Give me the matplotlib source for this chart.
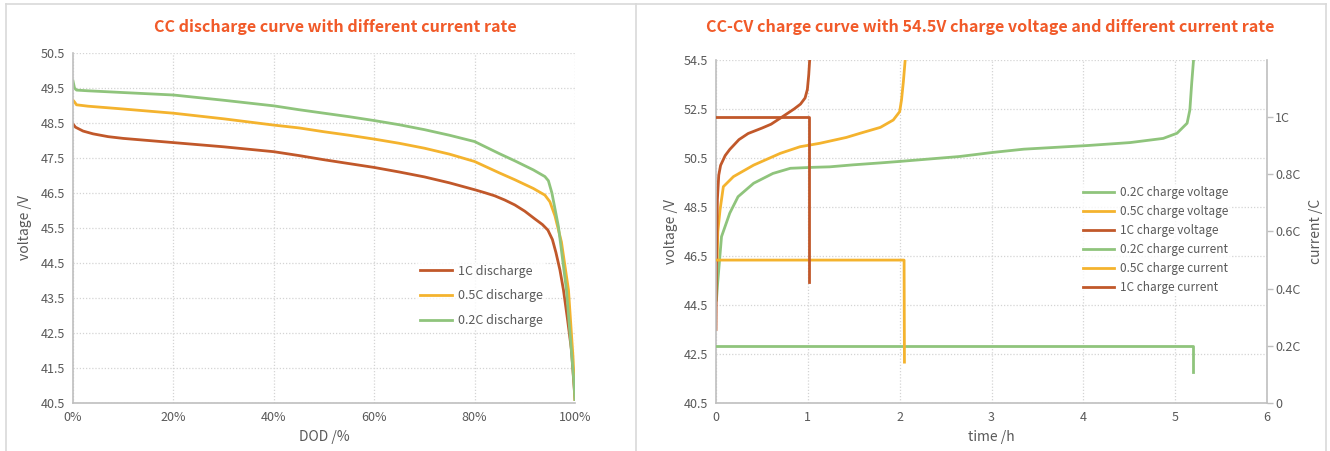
import matplotlib
matplotlib.use("Agg")
import matplotlib.pyplot as plt
from matplotlib.lines import Line2D

# ---------------- data: left panel (CC discharge) ----------------
dod_1c = [0, 0.5, 2, 4, 7, 10, 20, 30, 40, 45, 50, 55, 60, 65, 70, 75, 80.1, 82, 84, 86, 88, 90, 92, 93.5, 94.6, 95.5, 96.2, 97, 97.7, 98.5, 99.3, 99.8, 100]
v_1c = [48.47, 48.38, 48.27, 48.19, 48.11, 48.06, 47.94, 47.82, 47.68, 47.57, 47.45, 47.34, 47.23, 47.1, 46.96, 46.79, 46.59, 46.51, 46.42, 46.3, 46.16, 45.98, 45.76, 45.6, 45.44, 45.17, 44.8, 44.3, 43.73, 42.9, 42.01, 41.0, 40.6]

dod_05c = [0, 0.3, 0.7, 3, 10, 20, 30, 40, 45, 50, 55, 60, 65, 70, 75, 80, 85, 88, 91.7, 94, 95, 96, 97.3, 98.7, 99.6, 100]
v_05c = [49.15, 49.1, 49.02, 48.98, 48.9, 48.78, 48.62, 48.44, 48.36, 48.25, 48.15, 48.04, 47.92, 47.78, 47.61, 47.4, 47.07, 46.88, 46.63, 46.44, 46.25, 45.85, 45.1, 43.73, 41.82, 40.6]

dod_02c = [0, 0.3, 0.7, 3, 10, 20, 30, 40, 45, 50, 55, 60, 65, 70, 75, 80, 85, 88, 91.7, 94, 94.7, 95.4, 96.7, 98.3, 99.8, 100]
v_02c = [49.7, 49.5, 49.44, 49.42, 49.37, 49.3, 49.15, 48.99, 48.88, 48.78, 48.68, 48.57, 48.45, 48.31, 48.15, 47.97, 47.62, 47.42, 47.16, 46.97, 46.85, 46.5, 45.54, 43.73, 41.07, 40.6]

# ---------------- data: right panel (CC-CV charge) ----------------
t_v1c = [0, 0.005, 0.015, 0.03, 0.05, 0.1, 0.15, 0.25, 0.35, 0.5, 0.6, 0.73, 0.85, 0.92, 0.97, 0.995, 1.01, 1.02]
volt_1c = [43.5, 46.0, 48.8, 49.8, 50.2, 50.6, 50.85, 51.25, 51.5, 51.72, 51.88, 52.2, 52.5, 52.7, 52.95, 53.3, 53.9, 54.5]

t_v05c = [0.012, 0.02, 0.044, 0.08, 0.19, 0.41, 0.7, 0.915, 1.13, 1.42, 1.57, 1.79, 1.93, 2.0, 2.02, 2.04, 2.06]
volt_05c = [46.3, 47.5, 48.38, 49.33, 49.74, 50.21, 50.69, 50.96, 51.1, 51.34, 51.51, 51.75, 52.05, 52.39, 52.87, 53.6, 54.5]

t_v02c = [0.005, 0.018, 0.06, 0.15, 0.24, 0.41, 0.62, 0.81, 1.06, 1.24, 1.49, 1.79, 2.0, 2.65, 3.02, 3.35, 4.05, 4.51, 4.87, 5.02, 5.13, 5.16, 5.18, 5.2]
volt_02c = [44.7, 45.4, 47.29, 48.25, 48.92, 49.47, 49.87, 50.08, 50.12, 50.14, 50.22, 50.3, 50.36, 50.56, 50.73, 50.86, 51.01, 51.13, 51.3, 51.51, 51.92, 52.46, 53.55, 54.5]

t_i1c = [0, 1.017, 1.017]
cur_1c = [1.0, 1.0, 0.425]
t_i05c = [0, 2.048, 2.052]
cur_05c = [0.5, 0.5, 0.143]
t_i02c = [0, 5.19, 5.19]
cur_02c = [0.2, 0.2, 0.11]

left_yticks = [40.5, 41.5, 42.5, 43.5, 44.5, 45.5, 46.5, 47.5, 48.5, 49.5, 50.5]
left_xticks = [0, 20, 40, 60, 80, 100]
right_yticks = [40.5, 42.5, 44.5, 46.5, 48.5, 50.5, 52.5, 54.5]
right_xticks = [0, 1, 2, 3, 4, 5, 6]
cur_ticks = [0, 0.2, 0.4, 0.6, 0.8, 1.0]
cur_labels = ["0", "0.2C", "0.4C", "0.6C", "0.8C", "1C"]

# ---------------- style ----------------
GREEN = "#8FC47C"
YELLOW = "#F4B32E"
RED = "#C1582A"
TITLE = "#F15A29"
TXT = "#595959"
GRID = "#D4D4D4"
SPINE = "#BFBFBF"
FONT = ["Noto Sans CJK SC", "DejaVu Sans"]
plt.rcParams["font.family"] = FONT

W, H = 1330, 451
fig = plt.figure(figsize=(W / 100, H / 100), dpi=100)

def fx(px):
    return px / W

def fy(py):
    return 1 - py / H

# panel borders
for x0 in (6, 636, 1326):
    fig.add_artist(Line2D([fx(x0), fx(x0)], [fy(4), 0], color="#D9D9D9", lw=1.2))
fig.add_artist(Line2D([fx(6), fx(1326)], [fy(4), fy(4)], color="#D9D9D9", lw=1.2))

def style_axes(ax):
    ax.grid(True, linestyle=(0, (1, 1.5)), color=GRID, linewidth=0.9)
    ax.set_axisbelow(True)
    for s in ("top", "right"):
        ax.spines[s].set_visible(False)
    for s in ("left", "bottom"):
        ax.spines[s].set_color(SPINE)
        ax.spines[s].set_linewidth(1.2)
    ax.tick_params(length=0, labelsize=9, labelcolor=TXT, pad=6)

# ---------------- left panel ----------------
ax1 = fig.add_axes([fx(73), fy(403), fx(575) - fx(73), fy(53) - fy(403)])
style_axes(ax1)
lw = 2.0
ax1.plot(dod_1c, v_1c, color=RED, lw=lw, label="1C discharge")
ax1.plot(dod_05c, v_05c, color=YELLOW, lw=lw, label="0.5C discharge")
ax1.plot(dod_02c, v_02c, color=GREEN, lw=lw, label="0.2C discharge")
ax1.set_xlim(0, 100)
ax1.set_ylim(40.5, 50.5)
ax1.set_xticks(left_xticks)
ax1.set_xticklabels([f"{v}%" for v in left_xticks])
ax1.set_yticks(left_yticks)
ax1.set_yticklabels([f"{v:.1f}" for v in left_yticks])
ax1.set_xlabel("DOD /%", fontsize=10, color=TXT, labelpad=4)
ax1.set_ylabel("voltage /V", fontsize=10, color=TXT, labelpad=6)
leg1 = ax1.legend(loc="center left", bbox_to_anchor=(fx(411), fy(296)), bbox_transform=fig.transFigure,
                  frameon=True, fontsize=9, handlelength=2.6, handletextpad=0.5, labelspacing=0.95,
                  borderpad=0.2)
leg1.get_frame().set_edgecolor("none")
leg1.get_frame().set_facecolor("white")
for t in leg1.get_texts():
    t.set_color(TXT)

fig.text(fx(335), fy(27), "CC discharge curve with different current rate", ha="center", va="center",
         fontsize=11.6, fontweight="bold", color=TITLE)

# ---------------- right panel ----------------
ax2 = fig.add_axes([fx(716), fy(403), fx(1267) - fx(716), fy(60) - fy(403)])
style_axes(ax2)
ax3 = ax2.twinx()
for s in ("top", "left", "bottom"):
    ax3.spines[s].set_visible(False)
ax3.spines["right"].set_color(SPINE)
ax3.spines["right"].set_linewidth(1.2)

l1, = ax2.plot(t_v02c, volt_02c, color=GREEN, lw=lw, label="0.2C charge voltage")
l2, = ax2.plot(t_v05c, volt_05c, color=YELLOW, lw=lw, label="0.5C charge voltage")
l3, = ax2.plot(t_v1c, volt_1c, color=RED, lw=lw, label="1C charge voltage")
l4, = ax3.plot(t_i02c, cur_02c, color=GREEN, lw=lw, label="0.2C charge current")
l5, = ax3.plot(t_i05c, cur_05c, color=YELLOW, lw=lw, label="0.5C charge current")
l6, = ax3.plot(t_i1c, cur_1c, color=RED, lw=lw, label="1C charge current")

ax2.set_xlim(0, 6)
ax2.set_ylim(40.5, 54.5)
ax2.set_xticks(right_xticks)
ax2.set_yticks(right_yticks)
ax2.set_yticklabels([f"{v:.1f}" for v in right_yticks])
ax3.set_ylim(0, 1.2)
ax3.set_yticks(cur_ticks)
ax3.set_yticklabels(cur_labels)
ax3.tick_params(axis="y", length=4, width=1, color=SPINE, labelsize=9, labelcolor=TXT, pad=2)
ax2.set_xlabel("time /h", fontsize=10, color=TXT, labelpad=4)
ax2.set_ylabel("voltage /V", fontsize=10, color=TXT, labelpad=4)
ax3.set_ylabel("current /C", fontsize=10, color=TXT, labelpad=6)

leg2 = ax3.legend(handles=[l1, l2, l3, l4, l5, l6], loc="center left",
                  bbox_to_anchor=(fx(1075), fy(240)), bbox_transform=fig.transFigure,
                  frameon=True, fontsize=8.5, handlelength=2.6, handletextpad=0.5, labelspacing=0.5,
                  borderpad=0.2)
leg2.get_frame().set_edgecolor("none")
leg2.get_frame().set_facecolor("white")
for t in leg2.get_texts():
    t.set_color(TXT)

fig.text(fx(990), fy(27), "CC-CV charge curve with 54.5V charge voltage and different current rate",
         ha="center", va="center", fontsize=11.6, fontweight="bold", color=TITLE)

fig.savefig("out.png", dpi=100)
